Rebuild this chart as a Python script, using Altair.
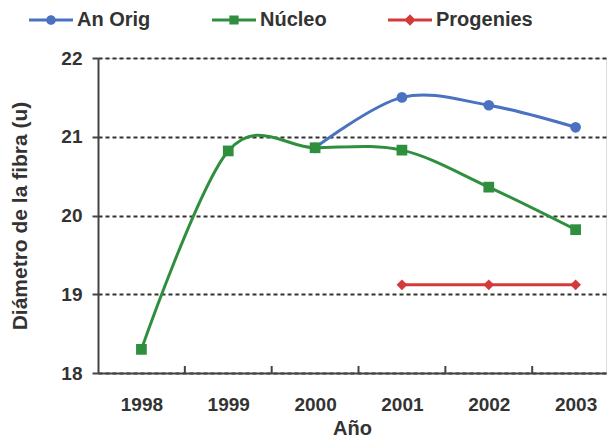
import altair as alt
import pandas as pd

# ---- data ----
series = ["An Orig", "Núcleo", "Progenies"]
colors = ["#4a72c0", "#2f8f3f", "#d43a3a"]
shapes = ["circle", "square", "diamond"]

years = [1998, 1999, 2000, 2001, 2002, 2003]

an_orig_years = [2000, 2001, 2002, 2003]
an_orig_vals = [20.86, 21.50, 21.40, 21.12]

nucleo_years = [1998, 1999, 2000, 2001, 2002, 2003]
nucleo_vals = [18.30, 20.82, 20.86, 20.83, 20.36, 19.82]

progenies_years = [2001, 2002, 2003]
progenies_vals = [19.12, 19.12, 19.12]

y_ticks = [18, 19, 20, 21, 22]

rows = []
for name, ys, vs in [("An Orig", an_orig_years, an_orig_vals),
                     ("Núcleo", nucleo_years, nucleo_vals),
                     ("Progenies", progenies_years, progenies_vals)]:
    for yr, v in zip(ys, vs):
        rows.append({"serie": name, "anio": yr, "valor": v})
df = pd.DataFrame(rows)

# category boundaries for the inward x ticks
borders = pd.DataFrame({"borde": [y + 0.5 for y in years[:-1]]})

W, H = 508, 315
FONT = "Liberation Sans"
TXT = "#333333"
AX = "#444444"

legend_paths = [
    "M-1,-0.065H1V0.065H-1Z M-0.22,0A0.22,0.22 0 1,1 0.22,0A0.22,0.22 0 1,1 -0.22,0Z",
    "M-1,-0.065H1V0.065H-1Z M-0.21,-0.21H0.21V0.21H-0.21Z",
    "M-1,-0.065H1V0.065H-1Z M0,-0.26L0.26,0L0,0.26L-0.26,0Z",
]

xscale = alt.Scale(domain=[1997.5, 2003.35], nice=False, zero=False)
yscale = alt.Scale(domain=[18, 22], nice=False, zero=False)
cscale = alt.Scale(domain=series, range=colors)

x_enc = alt.X(
    "anio:Q", scale=xscale,
    axis=alt.Axis(values=years, format="d", ticks=False, tickSize=0, grid=False,
                  labelFont=FONT, labelFontSize=19, labelFontWeight="bold",
                  labelColor=TXT, labelPadding=22, domainColor=AX, domainWidth=2,
                  title="Año", titleFont=FONT, titleFontSize=20, titleFontWeight="bold",
                  titleColor=TXT, titlePadding=4),
)
y_enc = alt.Y(
    "valor:Q", scale=yscale,
    axis=alt.Axis(values=y_ticks, format="d", grid=True, gridColor="#333333",
                  gridDash=[4, 3], gridWidth=2, tickSize=6, tickColor=AX, tickWidth=2,
                  labelFont=FONT, labelFontSize=19, labelFontWeight="bold",
                  labelColor=TXT, labelPadding=10, domainColor=AX, domainWidth=2,
                  title="Diámetro de la fibra (u)", titleFont=FONT, titleFontSize=21,
                  titleFontWeight="bold", titleColor=TXT, titlePadding=30),
)

base = alt.Chart(df)

lines = base.mark_line(interpolate="cardinal", strokeWidth=3).encode(
    x=x_enc, y=y_enc,
    color=alt.Color("serie:N", scale=cscale, legend=None),
    detail="serie:N",
)

points = base.mark_point(filled=True, size=115, opacity=1, strokeWidth=0).encode(
    x="anio:Q", y="valor:Q",
    color=alt.Color("serie:N", scale=cscale, legend=None),
    shape=alt.Shape("serie:N", scale=alt.Scale(domain=series, range=shapes), legend=None),
)

ticks = alt.Chart(borders).mark_rule(color=AX, strokeWidth=2).encode(
    x="borde:Q", y=alt.value(H), y2=alt.value(H - 7),
)

leg = dict(title=None, orient="none", direction="horizontal",
           legendX=-69, legendY=-60, padding=0,
           symbolSize=1936, symbolStrokeWidth=0,
           labelFont=FONT, labelFontSize=20,
           labelFontWeight="bold", labelColor=TXT,
           labelOffset=4, columnPadding=61)

legend_layer = base.mark_point(filled=True, opacity=1, strokeWidth=0).encode(
    x="anio:Q", y="valor:Q",
    color=alt.Color("serie:N", scale=cscale, legend=alt.Legend(**leg)),
    shape=alt.Shape("serie:N", scale=alt.Scale(domain=series, range=legend_paths),
                    legend=alt.Legend(**leg)),
).transform_filter("false")

chart = alt.layer(ticks, lines, points, legend_layer).resolve_scale(
    color="independent", shape="independent"
).properties(
    width=W, height=H,
    autosize=alt.AutoSizeParams(type="none"),
    padding={"left": 90, "top": 50, "right": 2, "bottom": 64},
).configure_view(stroke=None).configure(background="white")

chart.save("out.html", embed_options={"renderer": "svg", "actions": False})
